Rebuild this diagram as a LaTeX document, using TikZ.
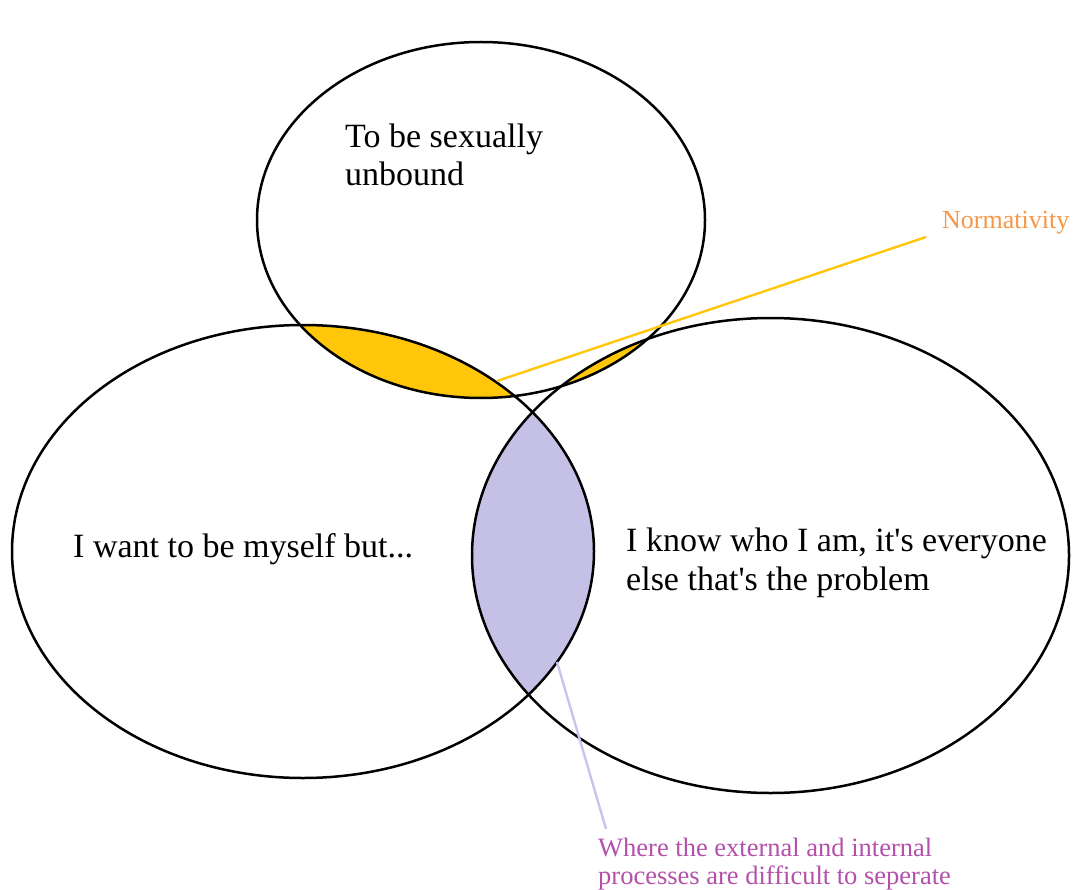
\documentclass[tikz,border=0pt]{standalone}
\usepackage{fontspec}
\setmainfont{Liberation Serif}
\definecolor{lensyellow}{RGB}{255,198,10}
\definecolor{lenspurple}{RGB}{197,192,230}
\definecolor{pointpurple}{RGB}{200,196,236}
\definecolor{labelorange}{RGB}{247,150,70}
\definecolor{labelmagenta}{RGB}{178,80,170}
\tikzset{
  venn/.style={draw=black, line width=2.5pt},
  maintext/.style={font=\fontsize{34}{38.5}\selectfont, align=left, inner sep=0pt, anchor=base west},
  smalltext/.style={font=\fontsize{26.5}{28}\selectfont, align=left, inner sep=0pt, anchor=base west},
  pointer/.style={line width=2.4pt}
}
\begin{document}
\begin{tikzpicture}[x=1pt,y=-1pt]
\useasboundingbox (0,0) rectangle (1075,890);
\def\topE{(481,220) ellipse [x radius=224, y radius=178]}
\def\leftE{(303,551.5) ellipse [x radius=291, y radius=226.5]}
\def\rightE{(770.5,555.5) ellipse [x radius=298.5, y radius=237.5]}
% fills
\begin{scope}
  \clip \leftE;
  \fill[lenspurple] \rightE;
\end{scope}
\begin{scope}
  \clip \topE;
  \fill[lensyellow] \leftE;
  \fill[lensyellow] \rightE;
\end{scope}
% outlines
\draw[venn] \topE;
\draw[venn] \leftE;
\draw[venn] \rightE;
% texts (base anchor = baseline of the last line)
\node[maintext] (t1) at (345,186) {To be sexually\\unbound};
\node[maintext] (t2) at (73,557) {I want to be myself but...};
\node[maintext] (t3) at (626,590) {I know who I am, it\textquotesingle s everyone\\else that\textquotesingle s the problem};
\node[smalltext, font=\fontsize{26}{28}\selectfont, text=labelorange] (norm) at (942,229) {Normativity};
\node[smalltext, text=labelmagenta] (where) at (598,884) {Where the external and internal\\processes are difficult to seperate};
% pointers
\coordinate (ny) at (497,381);
\coordinate (nyend) at (926,237);
\coordinate (pp) at (557,662);
\coordinate (ppend) at (606,829);
\draw[pointer, lensyellow] (ny) -- (nyend);
\draw[pointer, pointpurple] (pp) -- (ppend);
\end{tikzpicture}
\end{document}
